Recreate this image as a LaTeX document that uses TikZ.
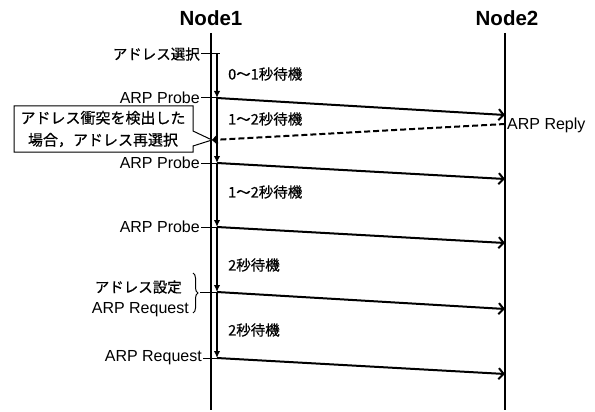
\documentclass[tikz,border=0pt]{standalone}
\usepackage{fontspec}
\setmainfont{Liberation Sans}
\newfontfamily\jp[FakeBold=0.6]{Noto Sans CJK JP}
\usetikzlibrary{arrows.meta,positioning,decorations.pathreplacing}

\begin{document}
\begin{tikzpicture}[x=1pt,y=-1pt,
  lbl/.style={font=\fontsize{16}{18}\selectfont,inner sep=1pt},
  jlbl/.style={font=\fontsize{14.5}{16}\selectfont\jp,inner sep=1pt},
  head/.style={font=\fontsize{20.5}{22}\selectfont\bfseries},
  life/.style={line width=1.9pt},
  tick/.style={line width=1pt},
  msg/.style={line width=2pt,-{Straight Barb[length=5pt,width=11pt]}},
  wait/.style={line width=1.6pt,-{Latex[length=7pt,width=6.5pt]}}]
\useasboundingbox (0,0) rectangle (595,412);
  % the two hosts
  \node[head] (n1) at (211,18) {Node1};
  \node[head] (n2) at (507,18) {Node2};
  \coordinate (n1top) at (211,33);
  \coordinate (n1bot) at (211,410);
  \coordinate (n2top) at (505,33);
  \coordinate (n2bot) at (505,410);
  \draw[life] (n1top) -- (n1bot);
  \draw[life] (n2top) -- (n2bot);
  %
  \coordinate (w0) at (217,54);
  \coordinate (w1) at (217,98);
  \coordinate (w2) at (217,163);
  \coordinate (w3) at (217,227);
  \coordinate (w4) at (217,292);
  \coordinate (w5) at (217,358);
  \coordinate (r1) at (505,115);
  \coordinate (r2) at (505,179);
  \coordinate (r3) at (505,243);
  \coordinate (r4) at (505,309);
  \coordinate (r5) at (505,374);
  \coordinate (rep) at (505,124);
  \coordinate (back) at (212,140);
  %
  \node[jlbl,left=16pt of w0] (sel) {アドレス選択};
  \node[lbl,left=16pt of w1] (p1) {ARP Probe};
  \node[lbl,left=16pt of w2] (p2) {ARP Probe};
  \node[lbl,left=16pt of w3] (p3) {ARP Probe};
  \node[lbl,left=14pt of w5] (q2) {ARP Request};
  \node[jlbl,anchor=east] (set) at (183,287) {アドレス設定};
  \node[lbl,anchor=east] (q1) at (190,310) {ARP Request};
  \node[lbl,anchor=west] (rpl) at (506,125) {ARP Reply};
  %
  \draw[tick] (sel.east) -- ([xshift=3pt]w0);
  \foreach \p/\w in {p1/w1,p2/w2,p3/w3,q2/w5}
    \draw[tick] (\p.east) -- ([xshift=3pt]\w);
  \draw[tick,decorate,decoration={brace,amplitude=5pt}] (193,273) -- (193,313);
  \coordinate (br) at (200,292);
  \draw[tick] (br) -- ([xshift=3pt]w4);
  % waiting times
  \draw[wait] (w0) -- (w1);
  \draw[wait] (w1) -- (w2);
  \draw[wait] (w2) -- (w3);
  \draw[wait] (w3) -- (w4);
  \draw[wait] (w4) -- (w5);
  \node[jlbl,anchor=west] (d1) at (227,74) {0～1秒待機};
  \node[jlbl,anchor=west] (d2) at (227,119) {1～2秒待機};
  \node[jlbl,anchor=west] (d3) at (227,192) {1～2秒待機};
  \node[jlbl,anchor=west] (d4) at (227,265) {2秒待機};
  \node[jlbl,anchor=west] (d5) at (227,330) {2秒待機};
  % messages
  \draw[msg] (w1) -- (r1);
  \draw[msg] (w2) -- (r2);
  \draw[msg] (w3) -- (r3);
  \draw[msg] (w4) -- (r4);
  \draw[msg] (w5) -- (r5);
  \draw[msg,dashed,dash pattern=on 6pt off 3pt,-{Straight Barb[length=4pt,width=8pt]}] (rep) -- (back);
  % callout
  \draw[tick,fill=white] (14,106) -- (193,106) -- (193,131) -- (back) -- (193,146)
    -- (193,152) -- (14,152) -- cycle;
  \node[jlbl,align=center,font=\fontsize{15}{22}\selectfont\jp] (cb) at (103,129)
    {アドレス衝突を検出した\\場合，アドレス再選択};
\end{tikzpicture}
\end{document}
